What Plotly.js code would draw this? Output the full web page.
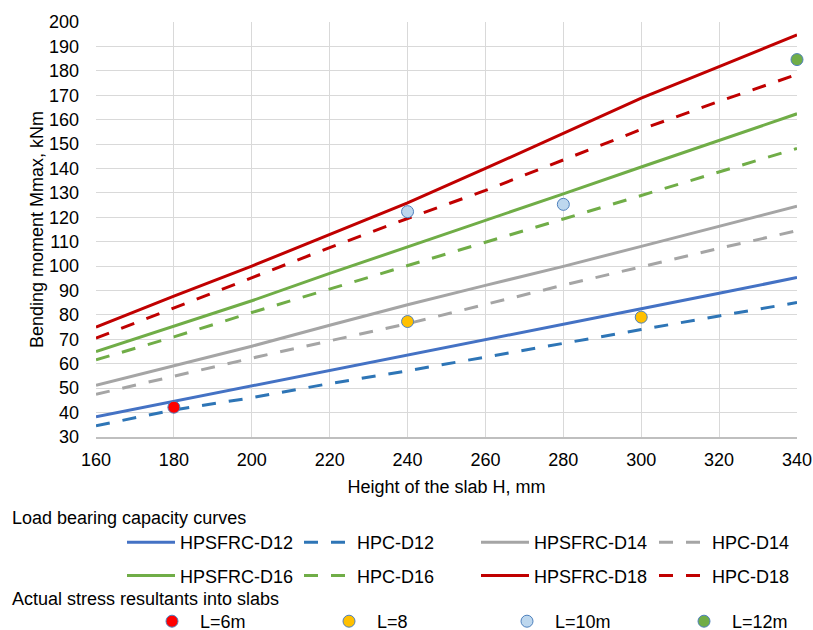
<!DOCTYPE html>
<html>
<head>
<meta charset="utf-8">
<script src="https://cdn.plot.ly/plotly-3.0.1.min.js"></script>
<style>
  html, body { margin: 0; padding: 0; background: #fff; }
  #chart { width: 813px; height: 630px; }
</style>
</head>
<body>
<div id="chart"></div>
<script>
// Slab height, mm
const heights = [160, 180, 200, 220, 240, 260, 280, 300, 320, 340];

// Load bearing capacity curves, kNm
const hpsfrcD12 = [38.3, 44.6, 50.7, 57.0, 63.6, 69.8, 76.1, 82.5, 88.9, 95.3];
const hpcD12    = [34.6, 41.1, 46.1, 51.9, 57.1, 62.8, 68.6, 74.0, 79.6, 85.1];
const hpsfrcD14 = [51.2, 59.1, 67.2, 75.8, 84.2, 92.1, 99.9, 108.1, 116.3, 124.5];
const hpcD14    = [47.5, 55.0, 62.3, 69.4, 76.4, 84.3, 92.2, 99.7, 107.3, 114.5];
const hpsfrcD16 = [65.0, 75.5, 85.8, 97.0, 107.8, 118.7, 129.6, 140.6, 151.5, 162.4];
const hpcD16    = [61.6, 71.0, 81.0, 90.7, 100.3, 109.8, 119.3, 128.9, 138.5, 148.2];
const hpsfrcD18 = [75.0, 87.7, 100.0, 112.9, 125.9, 140.0, 154.4, 168.8, 181.7, 194.7];
const hpcD18    = [70.5, 82.8, 95.4, 107.6, 119.5, 131.0, 143.5, 156.0, 167.5, 178.5];

// Actual stress resultants into slabs
const span6H  = [180];      const span6M  = [42.2];
const span8H  = [240, 300]; const span8M  = [77.3, 79.1];
const span10H = [240, 280]; const span10M = [122.3, 125.3];
const span12H = [340];      const span12M = [184.6];

const FONT = 'Liberation Sans, Arial, sans-serif';
const W = 813, H = 630;
const M = { l: 96, r: 16, t: 22, b: 193, autoexpand: false };
const PW = W - M.l - M.r, PH = H - M.t - M.b;
const px2x = px => (px - M.l) / PW;
const px2y = py => (H - M.b - py) / PH;

const DASH = '14px,13px';

function curve(name, y, color, dashed, legendId) {
  return {
    type: 'scatter', mode: 'lines', name: name,
    x: heights, y: y,
    line: { color: color, width: 3, dash: dashed ? DASH : 'solid' },
    legend: legendId, legendgroup: name,
    hoverinfo: 'x+y+name'
  };
}

function points(name, x, y, fill, legendId) {
  return {
    type: 'scatter', mode: 'markers', name: name,
    x: x, y: y, cliponaxis: false,
    marker: { size: 12, color: fill, line: { color: '#4F81BD', width: 1 } },
    legend: legendId
  };
}

const traces = [
  curve('HPSFRC-D12', hpsfrcD12, '#4472C4', false, 'legend'),
  curve('HPC-D12',    hpcD12,    '#2E75B6', true,  'legend2'),
  curve('HPSFRC-D14', hpsfrcD14, '#A5A5A5', false, 'legend3'),
  curve('HPC-D14',    hpcD14,    '#A5A5A5', true,  'legend4'),
  curve('HPSFRC-D16', hpsfrcD16, '#70AD47', false, 'legend'),
  curve('HPC-D16',    hpcD16,    '#70AD47', true,  'legend2'),
  curve('HPSFRC-D18', hpsfrcD18, '#C00000', false, 'legend3'),
  curve('HPC-D18',    hpcD18,    '#C00000', true,  'legend4'),
  points('L=6m',  span6H,  span6M,  '#FF0000', 'legend5'),
  points('L=8',   span8H,  span8M,  '#FFC000', 'legend6'),
  points('L=10m', span10H, span10M, '#BDD7EE', 'legend7'),
  points('L=12m', span12H, span12M, '#70AD47', 'legend8')
];

// Legend blocks below the plot: four columns of curves, one row of markers
const curveCols = [127, 304, 481, 659];
const markerCols = [172, 349, 527, 704];
const curveTop = 524, markerTop = 603;

function legendBlock(leftPx, topPx, itemWidth) {
  return {
    orientation: 'v', xref: 'paper', yref: 'paper',
    x: px2x(leftPx), y: px2y(topPx), xanchor: 'left', yanchor: 'top',
    bgcolor: 'rgba(0,0,0,0)', borderwidth: 0,
    itemwidth: itemWidth, tracegroupgap: 7, traceorder: 'grouped',
    font: { family: FONT, size: 18, color: '#000' }
  };
}

const layout = {
  width: W, height: H,
  margin: M,
  paper_bgcolor: '#fff', plot_bgcolor: '#fff',
  font: { family: FONT, size: 18, color: '#000' },
  showlegend: true,
  xaxis: {
    range: [160, 340], dtick: 20, tick0: 160,
    showgrid: true, gridcolor: '#D9D9D9', gridwidth: 1,
    showline: true, linecolor: '#BFBFBF', linewidth: 1.5,
    zeroline: false, ticks: '',
    ticklabelstandoff: 6,
    tickfont: { family: FONT, size: 18, color: '#000' },
    title: { text: 'Height of the slab H, mm', standoff: 11,
             font: { family: FONT, size: 18, color: '#000' } }
  },
  yaxis: {
    range: [30, 200], dtick: 10, tick0: 30,
    showgrid: true, gridcolor: '#D9D9D9', gridwidth: 1,
    showline: false, zeroline: false, ticks: '',
    ticklabelstandoff: 16,
    tickfont: { family: FONT, size: 18, color: '#000' },
    title: { text: 'Bending moment Mmax, kNm', font: { family: FONT, size: 18, color: '#000' } }
  },
  annotations: [
    { text: 'Load bearing capacity curves', xref: 'paper', yref: 'paper',
      x: px2x(10), y: px2y(518), xanchor: 'left', yanchor: 'middle', showarrow: false,
      font: { family: FONT, size: 18, color: '#000' } },
    { text: 'Actual stress resultants into slabs', xref: 'paper', yref: 'paper',
      x: px2x(10), y: px2y(599), xanchor: 'left', yanchor: 'middle', showarrow: false,
      font: { family: FONT, size: 18, color: '#000' } }
  ]
};

const ids = ['legend', 'legend2', 'legend3', 'legend4'];
curveCols.forEach((cx, i) => { layout[ids[i]] = legendBlock(cx - 5, curveTop, 48); });
markerCols.forEach((mx, i) => { layout['legend' + (i + 5)] = legendBlock(mx - 28, markerTop, 46); });

Plotly.newPlot('chart', traces, layout, { displayModeBar: false, staticPlot: true });
</script>
</body>
</html>
